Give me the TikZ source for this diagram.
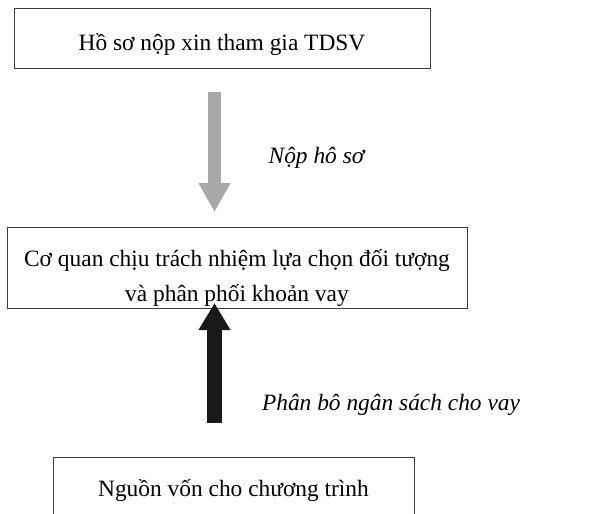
\documentclass[tikz,border=0pt]{standalone}
\usepackage{fontspec}
\setmainfont{Liberation Serif}
\usetikzlibrary{arrows.meta}
\definecolor{lightarrow}{RGB}{168,168,168}
\definecolor{boxline}{RGB}{60,60,60}
\tikzset{
  txtfont/.style={font=\fontsize{23.4}{35}\selectfont},
  box/.style={draw=boxline, line width=0.9pt, txtfont, inner xsep=0pt, inner ysep=0pt, align=center, anchor=base},
  lbl/.style={txtfont, font=\fontsize{23.4}{35}\selectfont\itshape, anchor=base, inner sep=0pt},
}
\begin{document}
\begin{tikzpicture}[x=1pt,y=-1pt]
\useasboundingbox (0,0) rectangle (590,514);
\clip (0,0) rectangle (590,514);
\node[box, minimum width=416pt, text height=42pt, text depth=18pt] (box1) at (222,50) {Hồ sơ nộp xin tham gia TDSV};
\node[box, minimum width=460pt, text height=74.7pt, text depth=6.3pt] (box2) at (237,301.7) {Cơ quan chịu trách nhiệm lựa chọn đối tượng\\và phân phối khoản vay};
\node[box, minimum width=361pt, text height=39.7pt, text depth=30pt] (box3) at (233.5,496.7) {Nguồn vốn cho chương trình};
\coordinate (ga) at (214.5,92);
\coordinate (gb) at (214.5,212);
\coordinate (ba) at (214.5,423);
\coordinate (bb) at (214.5,303);
\draw[lightarrow, line width=13pt, -{Triangle[width=30pt,length=29pt]}] (ga) -- (gb);
\draw[black!90, line width=15pt, -{Triangle[width=30pt,length=27pt]}] (ba) -- (bb);
\node[lbl] (l1) at (316.5,163) {Nộp hô sơ};
\node[lbl] (l2) at (391,410) {Phân bô ngân sách cho vay};
\end{tikzpicture}
\end{document}
